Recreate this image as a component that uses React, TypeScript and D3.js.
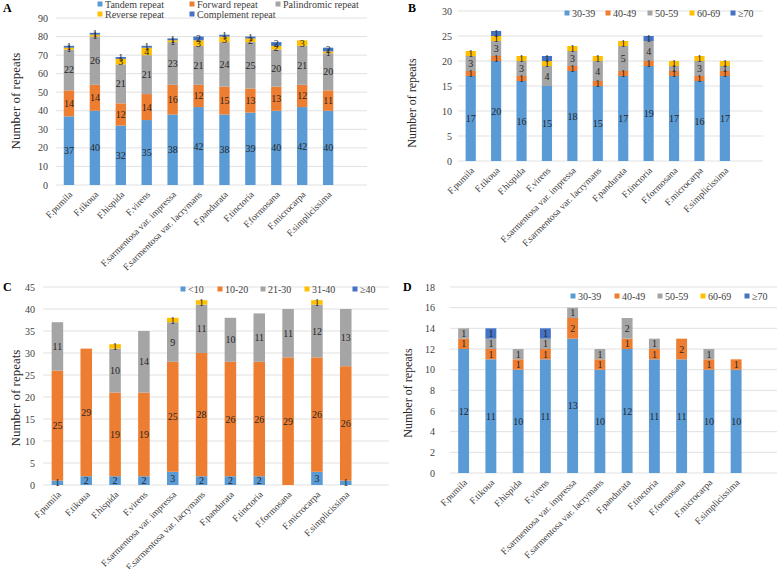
import React from "react";
import * as d3 from "d3";

const species = [
  "F.pumila",
  "F.tikoua",
  "F.hispida",
  "F.virens",
  "F.sarmentosa var. impressa",
  "F.sarmentosa var. lacrymans",
  "F.pandurata",
  "F.tinctoria",
  "F.formosana",
  "F.microcarpa",
  "F.simplicissima",
];

// Panel A: repeat types
const repeatTypes = ["Tandem repeat", "Forward repeat", "Palindromic repeat", "Reverse repeat", "Complement repeat"];
const tandemRepeat = [37, 40, 32, 35, 38, 42, 38, 39, 40, 42, 40];
const forwardRepeat = [14, 14, 12, 14, 16, 12, 15, 13, 13, 12, 11];
const palindromicRepeat = [22, 26, 21, 21, 23, 21, 24, 25, 20, 21, 20];
const reverseRepeat = [1, 1, 3, 4, 1, 3, 3, 2, 2, 3, 1];
const complementRepeat = [1, 1, 1, 1, 1, 2, 1, 1, 2, 0, 2];
const ticksA = [0, 10, 20, 30, 40, 50, 60, 70, 80, 90];

// Panel B: length classes
const lengthClassesB = ["30-39", "40-49", "50-59", "60-69", "≥70"];
const b30to39 = [17, 20, 16, 15, 18, 15, 17, 19, 17, 16, 17];
const b40to49 = [1, 1, 1, 0, 1, 1, 1, 1, 1, 1, 1];
const b50to59 = [3, 3, 3, 4, 3, 4, 5, 4, 1, 3, 1];
const b60to69 = [1, 1, 1, 1, 1, 1, 1, 0, 1, 1, 1];
const b70plus = [0, 1, 0, 1, 0, 0, 0, 1, 0, 0, 0];
const ticksB = [0, 5, 10, 15, 20, 25, 30];

// Panel C: length classes
const lengthClassesC = ["<10", "10-20", "21-30", "31-40", "≥40"];
const cBelow10 = [1, 2, 2, 2, 3, 2, 2, 2, 0, 3, 1];
const c10to20 = [25, 29, 19, 19, 25, 28, 26, 26, 29, 26, 26];
const c21to30 = [11, 0, 10, 14, 9, 11, 10, 11, 11, 12, 13];
const c31to40 = [0, 0, 1, 0, 1, 1, 0, 0, 0, 1, 0];
const c40plus = [0, 0, 0, 0, 0, 0, 0, 0, 0, 0, 0];
const ticksC = [0, 5, 10, 15, 20, 25, 30, 35, 40, 45];

// Panel D: length classes
const lengthClassesD = ["30-39", "40-49", "50-59", "60-69", "≥70"];
const dl30to39 = [12, 11, 10, 11, 13, 10, 12, 11, 11, 10, 10];
const dl40to49 = [1, 1, 1, 1, 2, 1, 1, 1, 2, 1, 1];
const dl50to59 = [1, 1, 1, 1, 1, 1, 2, 1, 0, 1, 0];
const dl60to69 = [0, 0, 0, 0, 0, 0, 0, 0, 0, 0, 0];
const dl70plus = [0, 1, 0, 1, 0, 0, 0, 0, 0, 0, 0];
const ticksD = [0, 2, 4, 6, 8, 10, 12, 14, 16, 18];

const colors = ["#5B9BD5", "#ED7D31", "#A5A5A5", "#FFC000", "#4472C4"];
const FONT = "'Liberation Serif', 'Times New Roman', serif";

type PanelProps = {
  letter: string;
  letterPos: [number, number];
  x0: number;
  x1: number;
  zeroY: number;
  topY: number;
  ticks: number[];
  tickRight: number;
  names: string[];
  series: number[][];
  legend: [number, number][];
  titlePos: [number, number];
  titleSize: number;
};

function Panel(p: PanelProps) {
  const n = species.length;
  const stepPx = (p.x1 - p.x0) / (n + 1);
  const x = d3
    .scaleBand<string>()
    .domain(species)
    .range([p.x0, p.x0 + stepPx * n])
    .paddingInner(0.6)
    .paddingOuter(0.3);
  const yMax = p.ticks[p.ticks.length - 1];
  const y = d3.scaleLinear().domain([0, yMax]).range([p.zeroY, p.topY]);
  const rows = species.map((s, i) => {
    const o: any = { sp: s };
    p.names.forEach((nm, k) => (o[nm] = p.series[k][i]));
    return o;
  });
  const stacked = d3.stack<any>().keys(p.names)(rows);
  return (
    <g>
      <text x={p.letterPos[0]} y={p.letterPos[1]} fontFamily={FONT} fontWeight="bold" fontSize={12}>
        {p.letter}
      </text>
      {p.ticks.map((t) => (
        <g key={t}>
          <line x1={p.x0} x2={p.x1} y1={y(t)} y2={y(t)} stroke="#D9D9D9" strokeWidth={0.8} />
          <text
            x={p.tickRight}
            y={y(t)}
            textAnchor="end"
            dominantBaseline="central"
            fontFamily={FONT}
            fontSize={10}
            fill="#404040"
          >
            {t}
          </text>
        </g>
      ))}
      {stacked.map((layer, k) => (
        <g key={p.names[k]} fill={colors[k]}>
          {layer.map((d, i) =>
            d[1] - d[0] > 0 ? (
              <rect
                key={i}
                x={x(species[i])}
                width={x.bandwidth()}
                y={y(d[1])}
                height={y(d[0]) - y(d[1])}
              />
            ) : null
          )}
        </g>
      ))}
      {stacked.map((layer, k) => (
        <g key={"l" + k}>
          {layer.map((d, i) =>
            d[1] - d[0] > 0 ? (
              <text
                key={i}
                x={(x(species[i]) as number) + x.bandwidth() / 2}
                y={y((d[0] + d[1]) / 2)}
                textAnchor="middle"
                dominantBaseline="central"
                fontFamily={FONT}
                fontSize={10}
                fill="#262626"
              >
                {d[1] - d[0]}
              </text>
            ) : null
          )}
        </g>
      ))}
      {species.map((s) => {
        const cx = (x(s) as number) + x.bandwidth() / 2;
        return (
          <text
            key={s}
            transform={`translate(${cx + 2},${p.zeroY + 8}) rotate(-45)`}
            textAnchor="end"
            dominantBaseline="central"
            fontFamily={FONT}
            fontSize={9.5}
            fill="#404040"
          >
            {s}
          </text>
        );
      })}
      <text
        transform={`translate(${p.titlePos[0]},${p.titlePos[1]}) rotate(-90)`}
        textAnchor="middle"
        dominantBaseline="central"
        fontFamily={FONT}
        fontSize={p.titleSize}
        fill="#262626"
      >
        Number of repeats
      </text>
      {p.names.map((nm, k) => (
        <g key={"lg" + k}>
          <rect x={p.legend[k][0] - 2.5} y={p.legend[k][1] - 2.5} width={5} height={5} fill={colors[k]} />
          <text
            x={p.legend[k][0] + 5}
            y={p.legend[k][1]}
            dominantBaseline="central"
            fontFamily={FONT}
            fontSize={10}
            fill="#404040"
          >
            {nm}
          </text>
        </g>
      ))}
    </g>
  );
}

export default function App() {
  return (
    <svg
      width={777}
      height={569}
      style={{ position: "absolute", left: 0, top: 0, background: "#fff" }}
    >
      <rect width={777} height={569} fill="#fff" />
      <Panel
        letter="A"
        letterPos={[3, 12]}
        x0={56}
        x1={367}
        zeroY={185}
        topY={18}
        ticks={ticksA}
        tickRight={48}
        names={repeatTypes}
        series={[tandemRepeat, forwardRepeat, palindromicRepeat, reverseRepeat, complementRepeat]}
        legend={[
          [100, 4],
          [192, 4],
          [278, 4],
          [100, 14],
          [192, 14],
        ]}
        titlePos={[15, 101]}
        titleSize={13}
      />
      <Panel
        letter="B"
        letterPos={[408, 12]}
        x0={458}
        x1={763}
        zeroY={161}
        topY={11}
        ticks={ticksB}
        tickRight={452}
        names={lengthClassesB}
        series={[b30to39, b40to49, b50to59, b60to69, b70plus]}
        legend={[
          [567, 13],
          [608, 13],
          [650, 13],
          [692, 13],
          [733, 13],
        ]}
        titlePos={[412, 103]}
        titleSize={12}
      />
      <Panel
        letter="C"
        letterPos={[3, 291]}
        x0={43}
        x1={389}
        zeroY={485}
        topY={287}
        ticks={ticksC}
        tickRight={35}
        names={lengthClassesC}
        series={[cBelow10, c10to20, c21to30, c31to40, c40plus]}
        legend={[
          [183, 289],
          [220, 289],
          [263, 289],
          [307, 289],
          [355, 289],
        ]}
        titlePos={[15, 398]}
        titleSize={13}
      />
      <Panel
        letter="D"
        letterPos={[403, 291]}
        x0={450}
        x1={777}
        zeroY={473}
        topY={287}
        ticks={ticksD}
        tickRight={435}
        names={lengthClassesD}
        series={[dl30to39, dl40to49, dl50to59, dl60to69, dl70plus]}
        legend={[
          [573, 296],
          [617, 296],
          [660, 296],
          [703, 296],
          [747, 296],
        ]}
        titlePos={[408, 393]}
        titleSize={12}
      />
    </svg>
  );
}
